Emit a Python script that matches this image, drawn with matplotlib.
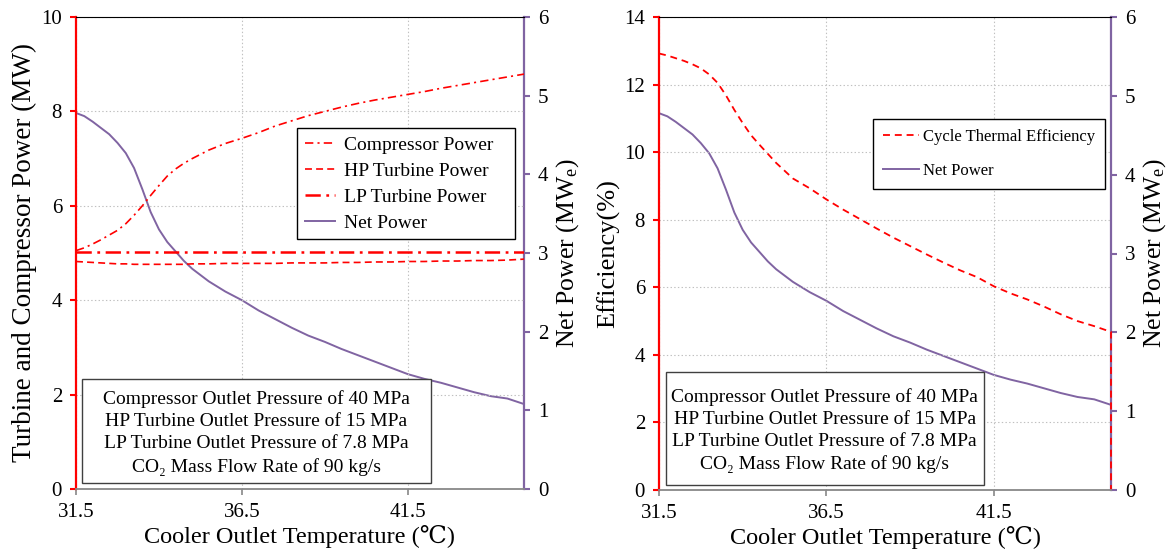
import matplotlib
matplotlib.use("Agg")
import matplotlib.pyplot as plt
from matplotlib.patches import Rectangle

plt.rcParams['font.family'] = ['Liberation Serif', 'DejaVu Serif']
plt.rcParams['mathtext.fontset'] = 'custom'
plt.rcParams['mathtext.rm'] = 'Liberation Serif'
plt.rcParams['mathtext.it'] = 'Liberation Serif:italic'
plt.rcParams['lines.scale_dashes'] = False

# cooler outlet temperature (C)
temps = [31.5, 31.75, 32, 32.25, 32.5, 32.75, 33, 33.25, 33.5, 33.75, 34, 34.25, 34.5, 34.75, 35,
         35.5, 36, 36.5, 37, 37.5, 38, 38.5, 39, 39.5, 40, 40.5, 41, 41.5, 42, 42.5, 43, 43.5, 44,
         44.5, 45]

# MW
comp_power = [5.05, 5.11, 5.19, 5.28, 5.38, 5.48, 5.62, 5.80, 6.00, 6.22, 6.43, 6.63, 6.78, 6.90, 7.00,
              7.18, 7.32, 7.43, 7.55, 7.69, 7.80, 7.91, 8.00, 8.09, 8.17, 8.24, 8.30, 8.36, 8.42, 8.49,
              8.55, 8.61, 8.67, 8.73, 8.79]
hp_power = [4.82, 4.81, 4.80, 4.79, 4.78, 4.77, 4.77, 4.76, 4.76, 4.76, 4.76, 4.76, 4.76, 4.76, 4.77,
            4.77, 4.78, 4.78, 4.78, 4.78, 4.79, 4.79, 4.79, 4.80, 4.80, 4.81, 4.81, 4.82, 4.82, 4.83,
            4.83, 4.84, 4.84, 4.85, 4.87]
lp_power = [5.03] * len(temps)

# MWe
net_power = [4.78, 4.74, 4.67, 4.59, 4.51, 4.40, 4.27, 4.08, 3.81, 3.52, 3.30, 3.14, 3.02, 2.90, 2.80,
             2.64, 2.51, 2.40, 2.27, 2.16, 2.05, 1.95, 1.87, 1.78, 1.70, 1.62, 1.54, 1.46, 1.40, 1.35,
             1.29, 1.23, 1.18, 1.15, 1.08]

# efficiency (%), the curve drops to zero at the last temperature
eff_temps = temps + [45]
efficiency = [12.92, 12.86, 12.78, 12.70, 12.60, 12.48, 12.30, 12.05, 11.68, 11.25, 10.86, 10.50, 10.22,
              9.95, 9.68, 9.22, 8.93, 8.60, 8.30, 8.02, 7.74, 7.47, 7.22, 6.97, 6.73, 6.50, 6.30, 6.03,
              5.82, 5.64, 5.43, 5.20, 5.00, 4.85, 4.68, 0.0]

box_lines = ["Compressor Outlet Pressure of 40 MPa",
             "HP Turbine Outlet Pressure of 15 MPa",
             "LP Turbine Outlet Pressure of 7.8 MPa",
             "CO\u2082 Mass Flow Rate of 90 kg/s"]

RED = '#FF0000'
PURPLE = '#8064A2'
W, H = 1171, 555

fig = plt.figure(figsize=(W / 100, H / 100), dpi=100)


def setup(ax, axr, ymax, ystep):
    ax.set_zorder(2)
    ax.patch.set_visible(False)
    axr.set_zorder(1)
    ax.set_xlim(31.5, 45)
    ax.set_xticks([31.5, 36.5, 41.5])
    ax.set_ylim(0, ymax)
    ax.set_yticks(range(0, ymax + 1, ystep))
    axr.set_ylim(0, 6)
    axr.set_yticks(range(0, 7))
    ax.grid(True, color='#C0C0C0', linestyle=':', linewidth=0.8)
    ax.spines['left'].set_color(RED)
    ax.spines['left'].set_linewidth(1.6)
    ax.spines['right'].set_visible(False)
    ax.spines['bottom'].set_color('#888888')
    ax.spines['bottom'].set_linewidth(1.3)
    ax.spines['top'].set_color('black')
    ax.spines['top'].set_linewidth(0.8)
    for s in ['left', 'top', 'bottom']:
        axr.spines[s].set_visible(False)
    axr.spines['right'].set_color(PURPLE)
    axr.spines['right'].set_linewidth(1.6)
    ax.tick_params(axis='y', color=RED, width=1.5, length=4, labelsize=15, pad=6)
    ax.tick_params(axis='x', color='#888888', width=1.2, length=4, labelsize=15, pad=6)
    axr.tick_params(axis='y', color=PURPLE, width=1.5, length=4, labelsize=15, pad=6)
    ax.set_xlabel("Cooler Outlet Temperature (\u2103)", fontsize=17.5, labelpad=2)
    axr.set_ylabel("Net Power (MW$_\\mathrm{e}$)", fontsize=18.5, labelpad=4)


def info_box(ax, x0, y0, x1, y1):
    ax.add_patch(Rectangle((x0, y0), x1 - x0, y1 - y0, transform=ax.transAxes,
                           facecolor='white', edgecolor='#404040', linewidth=1.0, zorder=5))
    ax.text((x0 + x1) / 2, (y0 + y1) / 2 - 0.004, "\n".join(box_lines), transform=ax.transAxes,
            ha='center', va='center', multialignment='center', fontsize=14,
            linespacing=1.4, zorder=6)


# left panel
ax1 = fig.add_axes([76 / W, 66 / H, 448 / W, 472 / H])
ax1r = ax1.twinx()
setup(ax1, ax1r, 10, 2)
ax1.set_ylabel("Turbine and Compressor Power (MW)", fontsize=19.5, labelpad=3)

l1, = ax1.plot(temps, comp_power, color=RED, lw=1.2, dashes=(6, 3, 1.5, 3), label="Compressor Power")
l2, = ax1.plot(temps, hp_power, color=RED, lw=1.2, dashes=(5, 3), label="HP Turbine Power")
l3, = ax1.plot(temps, lp_power, color=RED, lw=1.8, dashes=(11, 4, 2, 4), label="LP Turbine Power")
l4, = ax1r.plot(temps, net_power, color=PURPLE, lw=1.4, label="Net Power")

leg = ax1.legend(handles=[l1, l2, l3, l4], loc='upper left',
                 bbox_to_anchor=(0.493, 0.754, 0.487, 0.01), mode='expand',
                 borderaxespad=0, fontsize=14, handlelength=1.55, handletextpad=0.45,
                 labelspacing=0.43, borderpad=0.4, fancybox=False, framealpha=1,
                 edgecolor='black')
leg.get_frame().set_linewidth(1.0)
leg.set_zorder(10)
info_box(ax1, 0.0134, 0.0127, 0.792, 0.233)

# right panel
ax2 = fig.add_axes([659 / W, 65 / H, 452 / W, 473 / H])
ax2r = ax2.twinx()
setup(ax2, ax2r, 14, 2)
ax2.set_ylabel("Efficiency(%)", fontsize=19, labelpad=3)

m1, = ax2.plot(eff_temps, efficiency, color=RED, lw=1.3, dashes=(5, 3.5),
               label="Cycle Thermal Efficiency", clip_on=False)
m2, = ax2r.plot(temps, net_power, color=PURPLE, lw=1.4, label="Net Power")

leg2 = ax2.legend(handles=[m1, m2], loc='upper left', bbox_to_anchor=(0.473, 0.784),
                  borderaxespad=0, fontsize=12, handlelength=2.15, handletextpad=0.25,
                  labelspacing=1.08, borderpad=0.6, fancybox=False, framealpha=1,
                  edgecolor='black')
leg2.get_frame().set_linewidth(1.0)
leg2.set_zorder(10)
info_box(ax2, 0.0155, 0.0106, 0.718, 0.249)

fig.savefig("out.png", dpi=100)
